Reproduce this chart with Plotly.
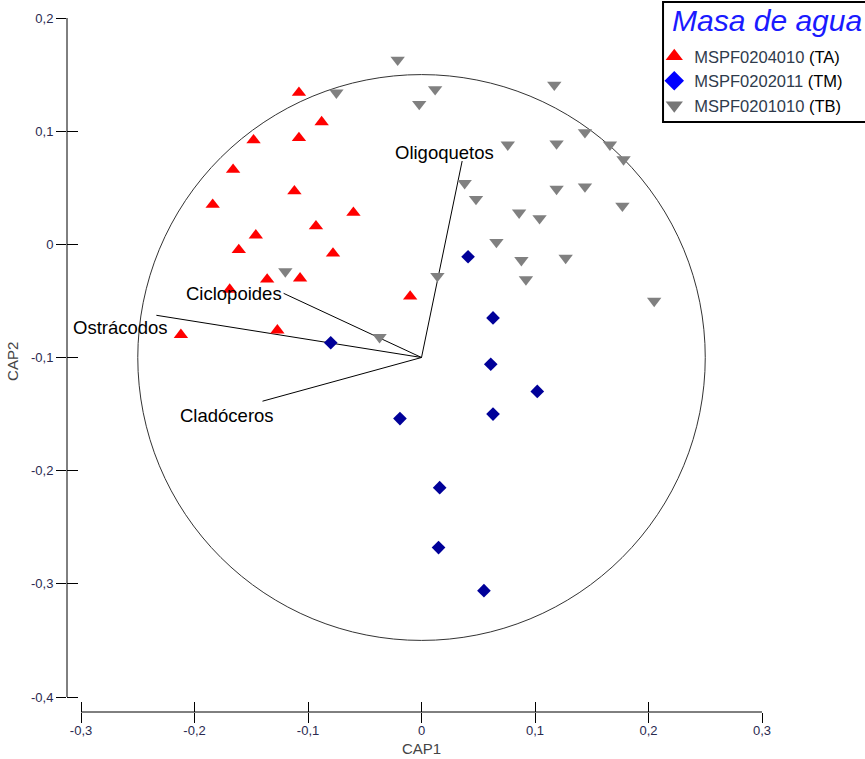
import plotly.graph_objects as go

# CAP ordination scores per water body
ta_x = [-0.108, -0.088, -0.148, -0.108, -0.166, -0.112, -0.184, -0.060, -0.093,
        -0.146, -0.161, -0.078, -0.136, -0.107, -0.169, -0.010, -0.127, -0.212]
ta_y = [0.134, 0.108, 0.092, 0.094, 0.066, 0.047, 0.035, 0.028, 0.016,
        0.008, -0.005, -0.008, -0.031, -0.030, -0.040, -0.046, -0.076, -0.080]

tm_x = [-0.080, 0.041, 0.063, 0.061, 0.102, 0.063, -0.019, 0.016, 0.015, 0.055]
tm_y = [-0.087, -0.011, -0.065, -0.106, -0.130, -0.150, -0.154, -0.215, -0.268, -0.306]

tb_x = [-0.021, 0.012, -0.002, 0.117, 0.144, 0.166, 0.178, 0.076, 0.119, 0.038,
        0.048, 0.119, 0.144, 0.177, 0.086, 0.104, 0.066, 0.088, 0.127, 0.092,
        0.014, 0.205, -0.037, -0.075, -0.120]
tb_y = [0.163, 0.137, 0.124, 0.141, 0.099, 0.088, 0.075, 0.088, 0.089, 0.054,
        0.040, 0.049, 0.051, 0.034, 0.028, 0.023, 0.002, -0.014, -0.012, -0.031,
        -0.028, -0.050, -0.082, 0.134, -0.024]

# Species vectors (origin at the circle centre)
origin = (0.0, -0.1)
vec_names = ["Oligoquetos", "Ciclopoides", "Ostrácodos", "Cladóceros"]
vec_x = [0.0358, -0.1215, -0.2336, -0.1401]
vec_y = [0.0736, -0.0433, -0.0627, -0.1386]
# label offsets in pixels (xshift, yshift)
vec_shift = [(34, 9), (0, 0), (14, -12), (13, -14)]

circle_r = 0.25

x_ticks = [-0.3, -0.2, -0.1, 0.0, 0.1, 0.2, 0.3]
x_labels = ["-0,3", "-0,2", "-0,1", "0", "0,1", "0,2", "0,3"]
y_ticks = [-0.4, -0.3, -0.2, -0.1, 0.0, 0.1, 0.2]
y_labels = ["-0,4", "-0,3", "-0,2", "-0,1", "0", "0,1", "0,2"]

legend_title = "Masa de agua"
group_names = ["MSPF0204010 <span style='color:black'>(TA)</span>",
               "MSPF0202011 <span style='color:black'>(TM)</span>",
               "MSPF0201010 <span style='color:black'>(TB)</span>"]

FONT = "Liberation Sans, Arial, sans-serif"
TICK_COLOR = "#2a2a50"

fig = go.Figure()

# vectors
lx, ly = [], []
for ex, ey in zip(vec_x, vec_y):
    lx += [origin[0], ex, None]
    ly += [origin[1], ey, None]
fig.add_trace(go.Scatter(x=lx, y=ly, mode="lines", line=dict(color="black", width=1),
                         showlegend=False, hoverinfo="skip"))

fig.add_trace(go.Scatter(x=ta_x, y=ta_y, mode="markers", showlegend=False,
                         marker=dict(symbol="triangle-up", size=12.5, color="#ff0000")))
fig.add_trace(go.Scatter(x=tm_x, y=tm_y, mode="markers", showlegend=False,
                         marker=dict(symbol="diamond", size=10.5, color="#000099")))
fig.add_trace(go.Scatter(x=tb_x, y=tb_y, mode="markers", showlegend=False,
                         marker=dict(symbol="triangle-down", size=12.5, color="#808080")))

# legend entries (on the overlay axes, which also carry the inner tick marks)
for name, sym, col in zip(group_names, ["triangle-up", "diamond", "triangle-down"],
                          ["#ff0000", "#0000ff", "#777777"]):
    fig.add_trace(go.Scatter(x=[None], y=[None], mode="markers", name=name,
                             xaxis="x2", yaxis="y2",
                             marker=dict(symbol=sym, size=15, color=col)))

x_range = [-0.31236, 0.3]
y_range = [-0.41325, 0.2]

axis_common = dict(showgrid=False, zeroline=False, showline=False,
                   tickcolor="black", tickwidth=1)
fig.update_layout(
    width=865, height=759,
    margin=dict(l=67, r=103, t=18, b=47, autoexpand=False),
    paper_bgcolor="white", plot_bgcolor="white",
    font=dict(family=FONT),
    xaxis=dict(range=x_range, tickvals=x_ticks, ticktext=x_labels, ticks="outside",
               ticklen=10, ticklabelstandoff=-4,
               tickfont=dict(size=13, color=TICK_COLOR), **axis_common),
    yaxis=dict(range=y_range, tickvals=y_ticks, ticktext=y_labels, ticks="outside",
               ticklen=10, tickfont=dict(size=13, color=TICK_COLOR), **axis_common),
    xaxis2=dict(range=x_range, overlaying="x", anchor="y2", side="bottom",
                tickvals=x_ticks, ticks="inside", ticklen=10, showticklabels=False,
                **axis_common),
    yaxis2=dict(range=y_range, overlaying="y", anchor="x2", side="left",
                tickvals=y_ticks, ticks="inside", ticklen=11, showticklabels=False,
                **axis_common),
    legend=dict(x=0.845, y=0.9697, xanchor="left", yanchor="top",
                bgcolor="rgba(0,0,0,0)", borderwidth=0,
                font=dict(size=16.5, color="#2f3b4c", family=FONT),
                itemwidth=30, tracegroupgap=0),
    showlegend=True,
)

# legend frame (runs off the right edge) and its title
fig.add_shape(type="rect", xref="paper", yref="paper",
              x0=0.8576, x1=1.16, y0=0.8501, y1=1.0231,
              line=dict(color="black", width=2), fillcolor="white", layer="above")
fig.add_annotation(x=0.8676, y=0.9971, xref="paper", yref="paper",
                   text=f"<i>{legend_title}</i>", showarrow=False,
                   xanchor="left", yanchor="middle",
                   font=dict(size=30, color="#1a1aff", family=FONT))

# detached axis lines and the correlation circle
fig.add_shape(type="line", xref="paper", yref="y", x0=0, x1=0, y0=-0.4, y1=0.2,
              line=dict(color="black", width=1))
fig.add_shape(type="line", xref="x", yref="paper", x0=-0.3, x1=0.3, y0=0, y1=0,
              line=dict(color="black", width=1))
fig.add_shape(type="circle", xref="x", yref="y",
              x0=origin[0] - circle_r, x1=origin[0] + circle_r,
              y0=origin[1] - circle_r, y1=origin[1] + circle_r,
              line=dict(color="#333333", width=1), layer="below")

for name, ex, ey, (sx, sy) in zip(vec_names, vec_x, vec_y, vec_shift):
    fig.add_annotation(x=ex, y=ey, xref="x", yref="y", text=name, showarrow=False,
                       xanchor="right", yanchor="middle", xshift=sx, yshift=sy,
                       font=dict(size=18.5, color="black", family=FONT))

fig.add_annotation(x=0, y=-0.052, xref="x", yref="paper", text="CAP1", showarrow=False,
                   yanchor="middle", font=dict(size=15, color="#444444", family=FONT))
fig.add_annotation(x=-0.0777, y=-0.103, xref="paper", yref="y", text="CAP2",
                   showarrow=False, textangle=-90, xanchor="center", yanchor="middle",
                   font=dict(size=15, color="#444444", family=FONT))

fig.write_html("out.html")
